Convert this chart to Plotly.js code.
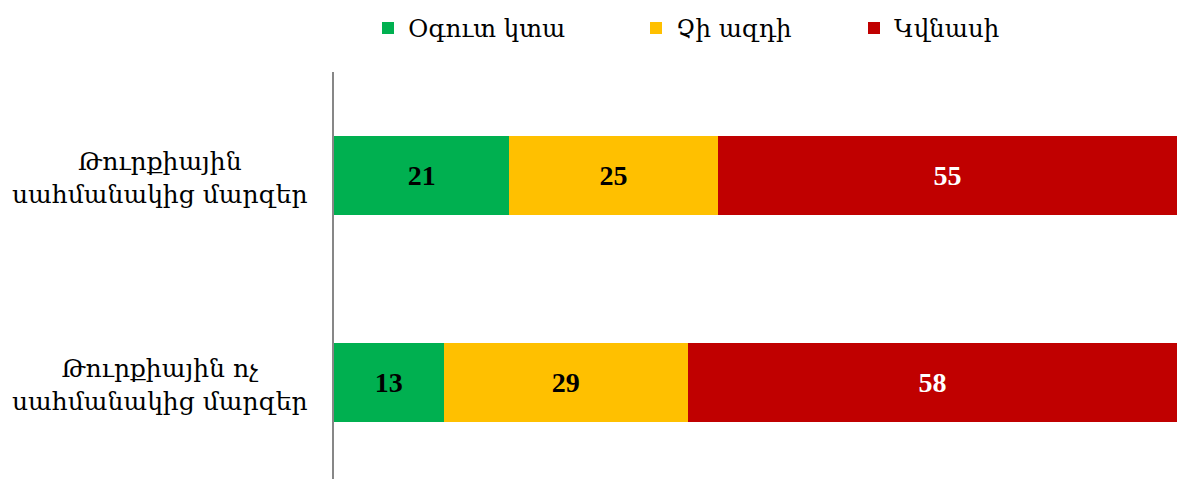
<!DOCTYPE html>
<html>
<head>
<meta charset="utf-8">
<script src="https://cdn.plot.ly/plotly-3.0.1.min.js"></script>
<style>html,body{margin:0;padding:0;background:#fff;}#chart{width:1177px;height:479px;}</style>
</head>
<body>
<div id="chart"></div>
<script>
const categories = ["Թուրքիային<br>սահմանակից մարզեր", "Թուրքիային ոչ<br>սահմանակից մարզեր"];
const seriesNames = ["Օգուտ կտա", "Չի ազդի", "Կվնասի"];
const benefit = [21, 13];
const noEffect = [25, 29];
const harm = [55, 58];
const seriesColors = ["#00B050", "#FFC000", "#C00000"];
const textColors = ["#000000", "#000000", "#FFFFFF"];
const legendIds = ["legend", "legend2", "legend3"];
const legendX = [368, 636, 854];

const allValues = [benefit, noEffect, harm];
const traces = allValues.map((vals, i) => ({
  type: "bar",
  orientation: "h",
  name: seriesNames[i],
  legend: legendIds[i],
  y: categories,
  x: vals,
  text: vals.map(String),
  textposition: "inside",
  insidetextanchor: "middle",
  textangle: 0,
  constraintext: "none",
  textfont: {family: "'Liberation Serif', 'Times New Roman', serif", size: 28, color: textColors[i], weight: "bold"},
  marker: {color: seriesColors[i]},
  width: 0.38,
  hoverinfo: "none"
}));

const annotations = categories.map(c => ({
  xref: "paper", yref: "y",
  x: -0.206, y: c,
  text: c,
  showarrow: false,
  xanchor: "center", yanchor: "middle",
  align: "center",
  yshift: -2,
  font: {family: "DejaVu Serif", size: 25, color: "#000"}
}));

const layout = {
  width: 1177, height: 479,
  margin: {l: 334, r: 0, t: 72, b: 0, pad: 0},
  barmode: "stack",
  barnorm: "percent",
  paper_bgcolor: "#fff",
  plot_bgcolor: "#fff",
  showlegend: true,
  xaxis: {range: [0, 100], visible: false, fixedrange: true},
  yaxis: {
    autorange: false,
    range: [1.466, -0.5],
    showticklabels: false,
    ticks: "",
    showgrid: false,
    zeroline: false,
    showline: true,
    linecolor: "#878787",
    linewidth: 2
  },
  annotations: annotations
};

legendIds.forEach((id, i) => {
  layout[id] = {
    orientation: "h",
    xref: "container", yref: "container",
    x: legendX[i] / 1177, y: 1 - 28 / 479,
    xanchor: "left", yanchor: "middle",
    font: {family: "DejaVu Serif", size: 24.5, color: "#000"},
    itemwidth: 30,
    bgcolor: "rgba(0,0,0,0)"
  };
});

Plotly.newPlot("chart", traces, layout, {displayModeBar: false, staticPlot: true});
</script>
</body>
</html>
